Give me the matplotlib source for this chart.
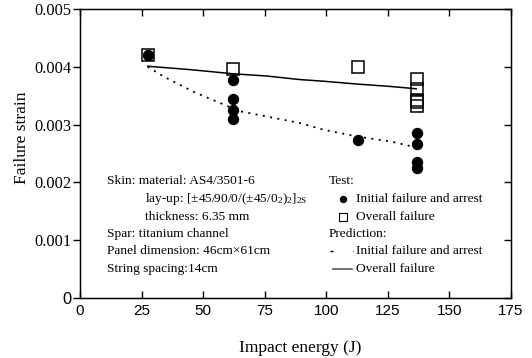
import numpy as np
import matplotlib
matplotlib.use('Agg')
import matplotlib.pyplot as plt

plt.rcParams['font.family'] = ['Liberation Serif', 'DejaVu Serif']
plt.rcParams['mathtext.fontset'] = 'custom'
plt.rcParams['mathtext.rm'] = 'Liberation Serif'
plt.rcParams['mathtext.it'] = 'Liberation Serif:italic'

# test data: initial failure and arrest
init_energy = [27.5, 62, 62, 62, 62, 113, 136.7, 136.7, 136.7, 136.7]
init_strain = [0.0042, 0.00378, 0.00345, 0.00326, 0.0031, 0.00273,
               0.00285, 0.00266, 0.00236, 0.00225]

# test data: overall failure
overall_energy = [27.5, 62, 113, 137, 137, 137, 137, 137]
overall_strain = [0.0042, 0.00397, 0.00399, 0.00379, 0.00361, 0.00343, 0.00339, 0.00333]

# predictions
pred_overall_energy = [27.5, 45, 62, 76, 89, 99, 113, 126, 136.5]
pred_overall_strain = [0.00401, 0.00395, 0.00388, 0.00384, 0.00378, 0.00375, 0.0037, 0.00366, 0.00362]

pred_init_energy = [27.5, 34, 47, 65, 89, 99, 113, 126, 135]
pred_init_strain = [0.0040, 0.00383, 0.00355, 0.00323, 0.00303, 0.00291, 0.00279, 0.00271, 0.00262]

xticks = [0, 25, 50, 75, 100, 125, 150, 175]
yticks = [0, 0.001, 0.002, 0.003, 0.004, 0.005]
ytick_labels = ['0', '0.001', '0.002', '0.003', '0.004', '0.005']

fig = plt.figure(figsize=(5.32, 3.58), dpi=100)
ax = fig.add_axes([80 / 532, 60 / 358, 431 / 532, 289 / 358])

ax.plot(pred_overall_energy, pred_overall_strain, '-', color='black', lw=1.1)
ax.plot(pred_init_energy, pred_init_strain, color='black', lw=1.3,
        linestyle=(0, (1.1, 3.0)))
ax.plot(init_energy, init_strain, 'o', color='black', ms=7.2, mec='black')
ax.plot(overall_energy, overall_strain, 's', mfc='none', mec='black', ms=9.3, mew=1.1)

ax.set_xlim(0, 175)
ax.set_ylim(0, 0.005)
ax.set_xticks(xticks)
ax.set_xticklabels([str(v) for v in xticks], family='Liberation Sans', fontsize=11)
ax.set_yticks(yticks)
ax.set_yticklabels(ytick_labels, fontsize=11.8)
ax.get_yticklabels()[0].set_family('Liberation Sans')
ax.tick_params(axis='x', direction='in', top=True, length=5, width=1, pad=4)
ax.tick_params(axis='y', direction='out', length=5, width=1, pad=1)
for s in ax.spines.values():
    s.set_linewidth(1.0)

ax2 = ax.twinx()
ax2.set_ylim(0, 0.005)
ax2.set_yticks(yticks)
ax2.tick_params(axis='y', direction='in', length=5, width=1, labelright=False)

fig.text(22 / 532, 1 - 137.5 / 358, 'Failure strain', rotation=90,
         ha='center', va='center', fontsize=12.5)
fig.text(300.5 / 532, 1 - 352 / 358, 'Impact energy (J)', ha='center',
         va='baseline', fontsize=12.5)

def fx(px):
    return (px - 80) / 431

def fy(py):
    return (298 - py) / 289

fs = 9.6
tr = ax.transAxes
lines_left = [
    (107, 184.5, 'Skin: material: AS4/3501-6'),
    (145, 202, 'lay-up: [\u00b145/90/0/(\u00b145/0$_2$)$_2$]$_{\\mathrm{2S}}$'),
    (145, 219.5, 'thickness: 6.35 mm'),
    (107, 237, 'Spar: titanium channel'),
    (107, 254.5, 'Panel dimension: 46cm\u00d761cm'),
    (107, 272, 'String spacing:14cm'),
]
for px, py, s in lines_left:
    ax.text(fx(px), fy(py), s, transform=tr, fontsize=fs, va='baseline')

lines_right = [
    (329, 184.5, 'Test:'),
    (356, 202, 'Initial failure and arrest'),
    (356, 219.5, 'Overall failure'),
    (329, 237, 'Prediction:'),
    (356, 254.5, 'Initial failure and arrest'),
    (356, 272, 'Overall failure'),
]
for px, py, s in lines_right:
    ax.text(fx(px), fy(py), s, transform=tr, fontsize=fs, va='baseline')

ax.plot([fx(342.7)], [fy(199)], 'o', color='black', ms=4.3, transform=tr, clip_on=False)
ax.plot([fx(342.7)], [fy(216.5)], 's', mfc='none', mec='black', ms=6, mew=0.8,
        transform=tr, clip_on=False)
ax.plot([fx(330), fx(353)], [fy(251), fy(251)], color='black', lw=1.0,
        linestyle=(0, (2.2, 14)), transform=tr)
ax.plot([fx(333), fx(352)], [fy(269), fy(269)], color='#555555', lw=1.2, transform=tr)

fig.savefig('out.png', dpi=100)
